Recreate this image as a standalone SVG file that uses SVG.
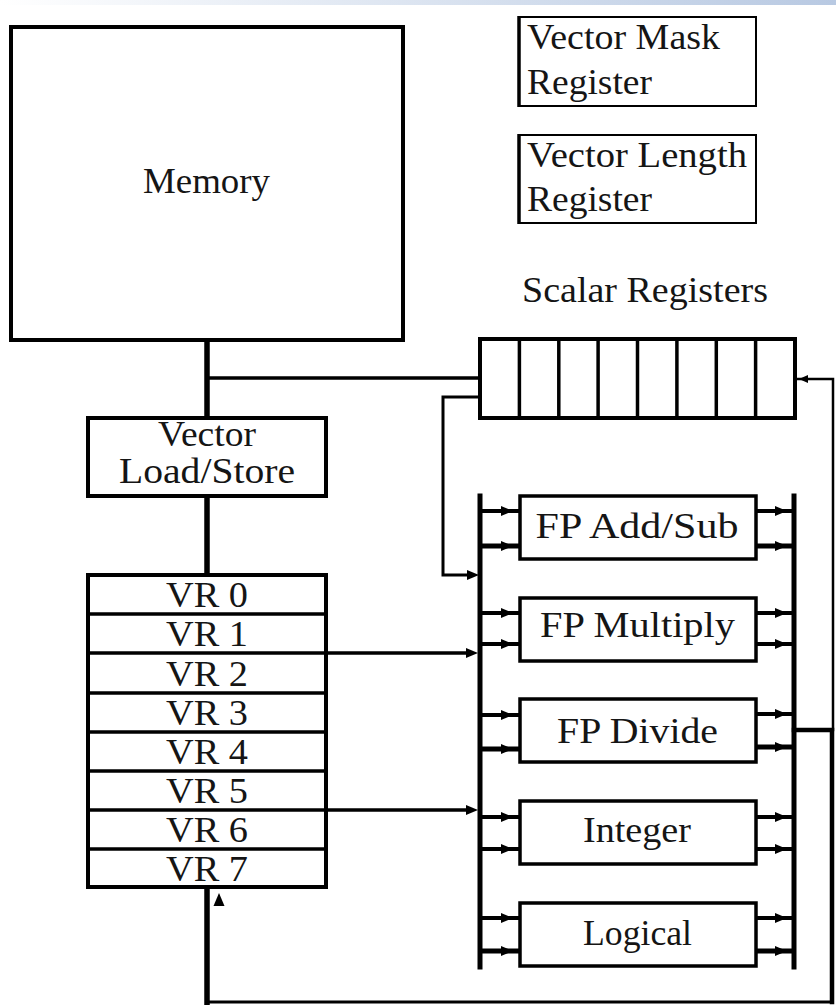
<svg xmlns="http://www.w3.org/2000/svg" xmlns:xlink="http://www.w3.org/1999/xlink" width="836" height="1005" viewBox="0 0 836 1005">
<style>
.box{fill:#fff;stroke:#000;stroke-width:4}
.ubox{fill:#fff;stroke:#000;stroke-width:3.5}
.thin{fill:#fff;stroke:#000;stroke-width:2}
.t{font-family:"Liberation Serif","Times New Roman","DejaVu Serif",serif;font-size:36px;fill:#151515;text-anchor:middle}
.tl{font-family:"Liberation Serif","Times New Roman","DejaVu Serif",serif;font-size:36px;fill:#151515}
.w{fill:none;stroke:#000;stroke-linecap:square}
</style>
<defs>
<linearGradient id="band" x1="0" y1="0" x2="1" y2="0">
<stop offset="0" stop-color="#ffffff"/>
<stop offset="1" stop-color="#b8c9e2"/>
</linearGradient>
<path id="ar" d="M-12,-5 L0,0 L-12,5 z" fill="#000"/>
<path id="al" d="M9,-4 L0,0 L9,4 z" fill="#000"/>
<path id="au" d="M-5.5,13 L0,0 L5.5,13 z" fill="#000"/>
</defs>
<rect x="0" y="0" width="836" height="1005" fill="#fff"/>
<rect x="0" y="0" width="836" height="5" fill="url(#band)"/>

<g id="connectors">
<line class="w" x1="207" y1="340" x2="207" y2="417" stroke-width="5.5"/>
<line class="w" x1="207" y1="378" x2="480" y2="378" stroke-width="3.5"/>
<line class="w" x1="207" y1="497" x2="207" y2="574" stroke-width="5.5"/>
<polyline class="w" points="480,397 443,397 443,575 470,575" stroke-width="3"/>
<use href="#ar" x="479" y="575"/>
<line class="w" x1="327" y1="653" x2="468" y2="653" stroke-width="3.5"/>
<use href="#ar" x="478" y="653"/>
<line class="w" x1="327" y1="810" x2="468" y2="810" stroke-width="3.5"/>
<use href="#ar" x="478" y="810"/>
<line class="w" x1="480" y1="496" x2="480" y2="967" stroke-width="5" stroke-linecap="butt"/>
<line class="w" x1="794" y1="496" x2="794" y2="967" stroke-width="5" stroke-linecap="butt"/>
<g stroke="#000" stroke-width="4">
<line x1="480" y1="511" x2="520" y2="511"/><line x1="480" y1="546" x2="520" y2="546" stroke-width="5"/>
<line x1="756" y1="511" x2="794" y2="511"/><line x1="756" y1="546" x2="794" y2="546" stroke-width="5"/>
<line x1="480" y1="613" x2="520" y2="613"/><line x1="480" y1="644" x2="520" y2="644"/>
<line x1="756" y1="613" x2="794" y2="613"/><line x1="756" y1="644" x2="794" y2="644"/>
<line x1="480" y1="715" x2="520" y2="715"/><line x1="480" y1="749" x2="520" y2="749" stroke-width="5"/>
<line x1="756" y1="714" x2="794" y2="714"/><line x1="756" y1="747" x2="794" y2="747" stroke-width="5"/>
<line x1="480" y1="817" x2="520" y2="817"/><line x1="480" y1="849" x2="520" y2="849"/>
<line x1="756" y1="817" x2="794" y2="817"/><line x1="756" y1="849" x2="794" y2="849"/>
<line x1="480" y1="918" x2="520" y2="918"/><line x1="480" y1="951" x2="520" y2="951" stroke-width="5"/>
<line x1="756" y1="918" x2="794" y2="918"/><line x1="756" y1="951" x2="794" y2="951" stroke-width="5"/>
</g>
<use href="#ar" x="513" y="511"/><use href="#ar" x="513" y="546"/>
<use href="#ar" x="787" y="511"/><use href="#ar" x="787" y="546"/>
<use href="#ar" x="513" y="613"/><use href="#ar" x="513" y="644"/>
<use href="#ar" x="787" y="613"/><use href="#ar" x="787" y="644"/>
<use href="#ar" x="513" y="715"/><use href="#ar" x="513" y="749"/>
<use href="#ar" x="787" y="714"/><use href="#ar" x="787" y="747"/>
<use href="#ar" x="513" y="817"/><use href="#ar" x="513" y="849"/>
<use href="#ar" x="787" y="817"/><use href="#ar" x="787" y="849"/>
<use href="#ar" x="513" y="918"/><use href="#ar" x="513" y="951"/>
<use href="#ar" x="787" y="918"/><use href="#ar" x="787" y="951"/>
<polyline class="w" points="797,379 833,379 833,730" stroke-width="2.5"/>
<use href="#al" x="799" y="379"/>
<polyline class="w" points="794,730 832,730 832,1002" stroke-width="4.5" stroke-linecap="butt"/>
<line class="w" x1="832" y1="1002" x2="207" y2="1002" stroke-width="3"/>
<line class="w" x1="207" y1="1003.5" x2="207" y2="888" stroke-width="5.5" stroke-linecap="butt"/>
<use href="#au" x="219" y="893"/>
</g>

<g id="memory">
<rect class="box" x="11" y="27" width="392" height="313"/>
<text class="t" x="206.5" y="193" textLength="127" lengthAdjust="spacingAndGlyphs">Memory</text>
</g>

<g id="vector-mask-register">
<rect class="thin" x="519" y="17" width="237" height="89"/>
<line x1="519" y1="16" x2="519" y2="107" stroke="#000" stroke-width="3.5"/>
<text class="tl" x="527" y="49" textLength="193" lengthAdjust="spacingAndGlyphs">Vector Mask</text>
<text class="tl" x="527" y="94" textLength="125" lengthAdjust="spacingAndGlyphs">Register</text>
</g>

<g id="vector-length-register">
<rect class="thin" x="519" y="135" width="237" height="88"/>
<line x1="519" y1="134" x2="519" y2="224" stroke="#000" stroke-width="3.5"/>
<text class="tl" x="527" y="167" textLength="220" lengthAdjust="spacingAndGlyphs">Vector Length</text>
<text class="tl" x="527" y="211" textLength="125" lengthAdjust="spacingAndGlyphs">Register</text>
</g>

<g id="scalar-registers">
<text class="tl" x="522" y="302" textLength="246" lengthAdjust="spacingAndGlyphs">Scalar Registers</text>
<rect class="box" x="480" y="339" width="315" height="79"/>
<g stroke="#000" stroke-width="3.5">
<line x1="519.4" y1="339" x2="519.4" y2="418"/>
<line x1="558.8" y1="339" x2="558.8" y2="418"/>
<line x1="598.1" y1="339" x2="598.1" y2="418"/>
<line x1="637.5" y1="339" x2="637.5" y2="418"/>
<line x1="676.9" y1="339" x2="676.9" y2="418"/>
<line x1="716.3" y1="339" x2="716.3" y2="418"/>
<line x1="755.6" y1="339" x2="755.6" y2="418"/>
</g>
</g>

<g id="vector-load-store">
<rect class="box" x="88" y="418" width="238" height="78" stroke-width="3.5"/>
<text class="t" x="207" y="446" font-size="31" textLength="98" lengthAdjust="spacingAndGlyphs">Vector</text>
<text class="t" x="207" y="483" font-size="31" textLength="176" lengthAdjust="spacingAndGlyphs">Load/Store</text>
</g>

<g id="vector-registers">
<rect class="box" x="88" y="575" width="238" height="312"/>
<g stroke="#000" stroke-width="3.5">
<line x1="88" y1="614" x2="326" y2="614"/>
<line x1="88" y1="653" x2="326" y2="653"/>
<line x1="88" y1="693" x2="326" y2="693"/>
<line x1="88" y1="732" x2="326" y2="732"/>
<line x1="88" y1="771" x2="326" y2="771"/>
<line x1="88" y1="810" x2="326" y2="810"/>
<line x1="88" y1="849" x2="326" y2="849"/>
</g>
<text class="t" x="207" y="607" textLength="82" lengthAdjust="spacingAndGlyphs">VR 0</text>
<text class="t" x="207" y="646" textLength="82" lengthAdjust="spacingAndGlyphs">VR 1</text>
<text class="t" x="207" y="686" textLength="82" lengthAdjust="spacingAndGlyphs">VR 2</text>
<text class="t" x="207" y="725" textLength="82" lengthAdjust="spacingAndGlyphs">VR 3</text>
<text class="t" x="207" y="764" textLength="82" lengthAdjust="spacingAndGlyphs">VR 4</text>
<text class="t" x="207" y="803" textLength="82" lengthAdjust="spacingAndGlyphs">VR 5</text>
<text class="t" x="207" y="842" textLength="82" lengthAdjust="spacingAndGlyphs">VR 6</text>
<text class="t" x="207" y="881" textLength="82" lengthAdjust="spacingAndGlyphs">VR 7</text>
</g>

<g id="fp-add-sub">
<rect class="ubox" x="520" y="496" width="236" height="63"/>
<text class="t" x="637" y="538" textLength="203" lengthAdjust="spacingAndGlyphs">FP Add/Sub</text>
</g>
<g id="fp-multiply">
<rect class="ubox" x="520" y="598" width="236" height="63"/>
<text class="t" x="637.5" y="637" textLength="195" lengthAdjust="spacingAndGlyphs">FP Multiply</text>
</g>
<g id="fp-divide">
<rect class="ubox" x="520" y="699" width="236" height="63"/>
<text class="t" x="637.5" y="743" textLength="161" lengthAdjust="spacingAndGlyphs">FP Divide</text>
</g>
<g id="integer">
<rect class="ubox" x="520" y="801" width="236" height="63"/>
<text class="t" x="637" y="842" textLength="108" lengthAdjust="spacingAndGlyphs">Integer</text>
</g>
<g id="logical">
<rect class="ubox" x="520" y="903" width="236" height="63"/>
<text class="t" x="637.5" y="945" textLength="109" lengthAdjust="spacingAndGlyphs">Logical</text>
</g>
</svg>
